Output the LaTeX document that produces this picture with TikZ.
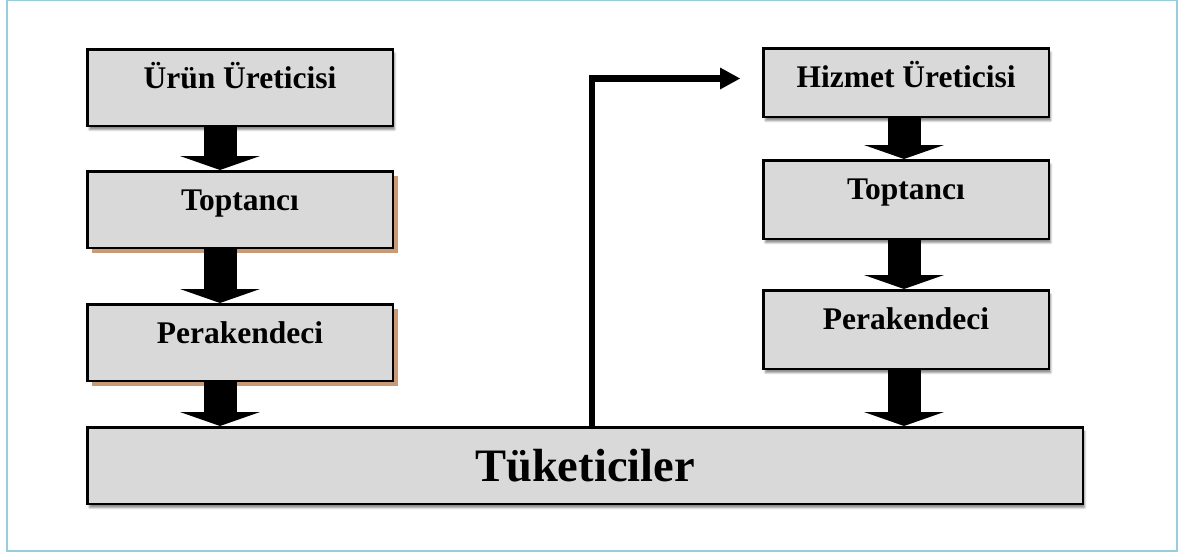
\documentclass[tikz,border=0pt]{standalone}
\usepackage{fontspec}
\setmainfont{Liberation Serif}
\usetikzlibrary{positioning,arrows.meta,shadows,shadows.blur}

\definecolor{framebl}{RGB}{150,206,222}
\definecolor{boxgray}{RGB}{217,217,217}
\definecolor{tanshadow}{RGB}{200,155,118}

\begin{document}
\begin{tikzpicture}[x=1pt,y=-1pt,node distance=43pt,semithick]
    \tikzstyle{stage}=[draw=black,line width=2.5pt,fill=boxgray,inner sep=0pt,
        minimum width=305.5pt,text height=39pt,text depth=37.5pt,
        font=\fontsize{31.5}{36}\selectfont\bfseries]
    \tikzstyle{grayshade}=[blur shadow={shadow xshift=2pt,shadow yshift=-4pt,
        shadow blur steps=6,shadow opacity=45}]
    \tikzstyle{tanshade}=[drop shadow={shadow xshift=5pt,shadow yshift=-5pt,
        fill=tanshadow,opacity=1}]
    \tikzstyle{flow}=[line width=33pt,
        -{Triangle[length=14pt,width=80pt,line width=0pt]}]
    \tikzstyle{feedback}=[line width=6.5pt,line join=miter,
        -{Triangle[length=20pt,width=22pt,line width=0pt]}]

    % frame and page size
    \useasboundingbox (0,0) rectangle (1195,554);
    \draw[framebl,line width=2.5pt] (7,0) rectangle (1177,551);

    % left column: goods
    \node[stage,grayshade,anchor=north west] (urun) at (86,48) {Ürün Üreticisi};
    \node[stage,tanshade] (ltop) [below=43pt of urun] {Toptancı};
    \node[stage,tanshade] (lper) [below=54pt of ltop] {Perakendeci};

    % right column: services
    \node[stage,grayshade,anchor=north west,minimum width=285.5pt,text depth=29.5pt]
        (hiz) at (762,47) {Hizmet Üreticisi};
    \node[stage,grayshade,minimum width=285.5pt,text depth=39.5pt] (rtop) [below=41pt of hiz] {Toptancı};
    \node[stage,grayshade,minimum width=285.5pt,text depth=39.5pt] (rper) [below=49pt of rtop] {Perakendeci};

    % consumers
    \node[stage,grayshade,minimum width=995.5pt,text height=54pt,text depth=22.5pt,
        font=\fontsize{46.5}{52}\selectfont\bfseries]
        (tuk) [below=44pt of lper.south west,anchor=north west] {Tüketiciler};

    % block arrows
    \draw[flow] ([xshift=-20pt]urun.south) -- ([xshift=-20pt]ltop.north);
    \draw[flow] ([xshift=-20pt]ltop.south) -- ([xshift=-20pt]lper.north);
    \draw[flow] ([xshift=-20pt]lper.south) -- ([xshift=-20pt]lper.south |- tuk.north);
    \draw[flow] ([xshift=-2pt]hiz.south) -- ([xshift=-2pt]rtop.north);
    \draw[flow] ([xshift=-2pt]rtop.south) -- ([xshift=-2pt]rper.north);
    \draw[flow] ([xshift=-2pt]rper.south) -- ([xshift=-2pt]rper.south |- tuk.north);

    % back from consumers to the service producer
    \coordinate (fbtip) at ([xshift=-22pt,yshift=4pt]hiz.west);
    \draw[feedback] ([xshift=7pt]tuk.north) |- (fbtip);
\end{tikzpicture}
\end{document}
